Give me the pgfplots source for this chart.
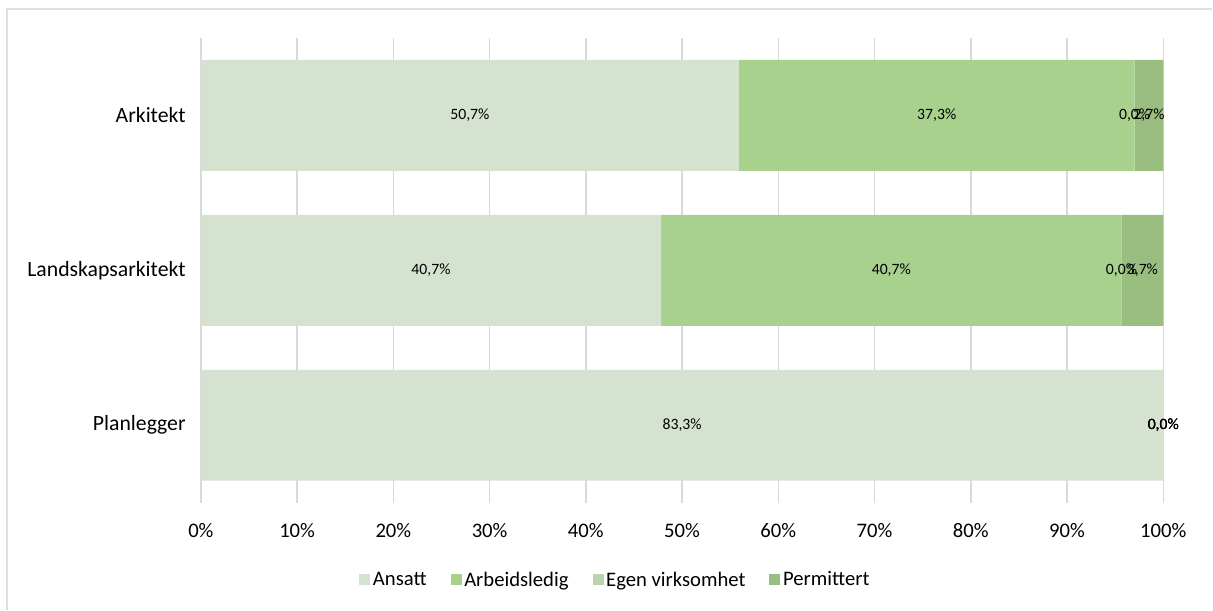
\documentclass[border=0pt]{standalone}
\usepackage{fontspec}
\setmainfont{Carlito}
\usepackage{pgfplots}
\usepackage{pgfplotstable}
\pgfplotsset{compat=1.18}
\definecolor{ansatt}{HTML}{D5E2CF}
\definecolor{arbeid}{HTML}{A9D18E}
\definecolor{egen}{HTML}{BBD4AD}
\definecolor{permit}{HTML}{99BE7F}
\definecolor{gridgray}{HTML}{D9D9D9}
\definecolor{framegray}{HTML}{E0E0E0}

% bar segments (share of each row, %), rows: 0=Planlegger, 1=Landskapsarkitekt, 2=Arkitekt
\pgfplotstableread{
y ansatt arbeid egen permit
0 100.000 0.000 0.000 0.000
1 47.826 47.826 0.000 4.348
2 55.899 41.125 0.000 2.977
}\bars

% data labels: position (middle of segment) and text
\pgfplotstableread{
x y label
27.95 2 50,7\%
76.46 2 37,3\%
97.02 2 0,0\%
98.51 2 2,7\%
23.91 1 40,7\%
71.74 1 40,7\%
95.65 1 0,0\%
97.83 1 3,7\%
50.00 0 83,3\%
100.00 0 0,0\%
100.00 0 0,0\%
100.00 0 0,0\%
}\labels

\begin{document}
\begin{tikzpicture}
\path (-150.75pt,-80.25pt) rectangle (759pt,377.25pt);
\draw[framegray, line width=1.1pt] (-145.5pt,-80.25pt) -- (-145.5pt,370.5pt) -- (759pt,370.5pt);
\begin{axis}[
  at={(0pt,0pt)}, anchor=south west,
  width=722.25pt, height=348.75pt, scale only axis,
  xbar stacked, bar width=83.25pt,
  xmin=0, xmax=100, ymin=-0.5, ymax=2.5,
  clip=false,
  ytick={0,1,2}, yticklabels={Planlegger,Landskapsarkitekt,Arkitekt},
  xtick={0,10,...,100},
  xticklabel={\pgfmathprintnumber{\tick}\%},
  /pgf/number format/assume math mode=true,
  axis line style={draw=none},
  major tick length=0pt,
  xmajorgrids,
  major grid style={draw=gridgray, line width=1.1pt},
  xticklabel style={font=\fontsize{15.5}{18}\selectfont, anchor=base, yshift=-26.25pt},
  yticklabel style={font=\fontsize{16.3}{19}\selectfont, anchor=east, inner sep=0pt, xshift=-11.25pt},
  legend style={at={(0.431,-0.166)}, anchor=center, draw=none, fill=none,
    legend columns=4, font=\fontsize{15.5}{18}\selectfont,
    /tikz/every even column/.append style={column sep=16pt}},
  legend image code/.code={\fill[#1] (0pt,-4.1pt) rectangle (8.25pt,4.1pt);},
]
\addplot[fill=ansatt, draw=none] table[x=ansatt, y=y] {\bars};
\addlegendentry{Ansatt}
\addplot[fill=arbeid, draw=none] table[x=arbeid, y=y] {\bars};
\addlegendentry{Arbeidsledig}
\addplot[fill=egen, draw=none] table[x=egen, y=y] {\bars};
\addlegendentry{Egen virksomhet}
\addplot[fill=permit, draw=none] table[x=permit, y=y] {\bars};
\addlegendentry{Permittert}
\end{axis}
\begin{axis}[
  at={(0pt,0pt)}, anchor=south west,
  width=722.25pt, height=348.75pt, scale only axis,
  xmin=0, xmax=100, ymin=-0.5, ymax=2.5,
  hide axis, clip=false,
]
\addplot[draw=none, mark=none, nodes near coords, point meta=explicit symbolic,
  every node near coord/.append style={anchor=center, font=\fontsize{11.8}{14}\selectfont, text=black}]
  table[x=x, y=y, meta=label] {\labels};
\end{axis}
\end{tikzpicture}
\end{document}
